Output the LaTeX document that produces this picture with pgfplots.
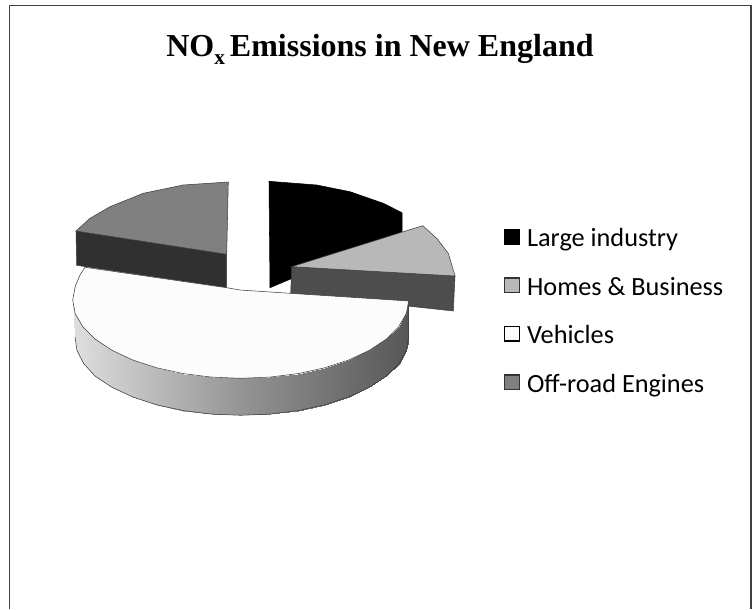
\documentclass[border=0pt]{standalone}
\usepackage{pgfplots}
\pgfplotsset{compat=1.18}
\usepackage{fontspec}
\setmainfont{Carlito}
\newfontfamily\titlefont{Liberation Serif}
\definecolor{offtop}{HTML}{808080}
\definecolor{offside}{HTML}{303030}
\definecolor{hometop}{HTML}{B8B8B8}
\definecolor{homeside}{HTML}{4D4D4D}
\definecolor{vehtop}{HTML}{FCFCFC}
\definecolor{edge}{HTML}{3C3C3C}
\pgfplotsset{
  keybox/.style={legend image code/.code={
    \draw[line width=1pt,##1] (0pt,-3pt) rectangle (11pt,8pt);
    \path (16.6pt,0pt);}},
}
\begin{document}
\begin{tikzpicture}
\begin{axis}[
  scale only axis, width=564pt, height=456.75pt,
  xmin=0, xmax=752, ymin=0, ymax=609, y dir=reverse,
  hide axis, clip=false,
  colormap={sideshade}{color(0)=(black!13) color(0.5)=(black!42) color(1)=(black!66)},
  title={\titlefont\bfseries\fontsize{24}{28}\selectfont NO\raisebox{-5.5pt}{\fontsize{16}{18}\selectfont x}\hspace{3.7pt}Emissions in New England},
  title style={at={(axis cs:380,65)}, anchor=base, inner sep=0pt},
  legend style={draw=none, fill=none, at={(axis cs:504,228)}, anchor=north west,
    font=\fontsize{19.7}{22}\selectfont, row sep=18.4pt, inner sep=0pt, outer sep=0pt,
    nodes={text height=14pt, text depth=4pt, inner sep=0pt}},
  legend cell align=left,
]
% frame, open at the bottom
\addplot[black!75, line width=1pt, forget plot] coordinates {(9.5,609) (9.5,5.5) (751,5.5) (751,609)};

% large industry
\addplot[fill=black, draw=black, line width=0.4pt, forget plot] coordinates {
  (269,181.3) (316.7,185) (350,191.7) (383.3,203.3) (402,212.7) (402,231.7) (270,287.7)} --cycle;

% off-road engines
\addplot[fill=offside, draw=edge, line width=0.4pt, forget plot] coordinates {
  (76,231) (76.7,265.3) (226.7,287.7) (226.7,254.3)} --cycle;
\addplot[fill=offtop, draw=edge, line width=0.4pt, forget plot] coordinates {
  (228.3,182) (183.3,185) (143.3,193.3) (110,206.7) (90,218.3) (76,231) (226.7,254.3)} --cycle;

% homes and business
\addplot[fill=homeside, draw=edge, line width=0.4pt, forget plot] coordinates {
  (291.7,266.7) (290.7,293.3) (453.3,311) (455,276)} --cycle;
\addplot[fill=hometop, draw=edge, line width=0.4pt, forget plot] coordinates {
  (291.7,266.7) (422.7,225.7) (436.7,238.3) (448.3,253.3) (455,276)} --cycle;

% vehicles, side wall
\addplot[surf, shader=interp, mesh/rows=2, mesh/cols=19, point meta=x,
  point meta min=75, point meta max=409, forget plot] coordinates {
  (72.7,300) (75.2,313.6) (82.8,326.8) (95.2,339.2) (112,350.3) (132.7,360) (156.7,367.8)
  (183.2,373.6) (211.5,377.1) (240.7,378.3) (269.9,377.1) (298.2,373.6) (324.7,367.8)
  (348.7,360) (369.4,350.3) (386.2,339.2) (398.6,326.8) (406.2,313.6) (408.7,300)

  (75,337) (77,350.6) (83.8,363.8) (95.2,376.2) (112,387.3) (132.7,397) (156.7,404.8)
  (183.2,410.6) (211.5,414.1) (240.7,415.3) (269.9,414.1) (298.2,410.6) (324.7,404.8)
  (348.7,397) (369.4,387.3) (386.2,376.2) (398.6,363.8) (406.2,350.6) (408.7,337)
};
\addplot[draw=edge, line width=0.4pt, forget plot] coordinates {
  (75,337) (77,350.6) (83.8,363.8) (95.2,376.2) (112,387.3) (132.7,397) (156.7,404.8)
  (183.2,410.6) (211.5,414.1) (240.7,415.3) (269.9,414.1) (298.2,410.6) (324.7,404.8)
  (348.7,397) (369.4,387.3) (386.2,376.2) (398.6,363.8) (406.2,350.6) (408.7,337) (408.7,300)};

% vehicles, top
\addplot[fill=vehtop, draw=edge, line width=0.4pt, forget plot] coordinates {
  (408.7,301) (406.2,313.6) (398.6,326.8) (386.2,339.2) (369.4,350.3) (348.7,360) (324.7,367.8)
  (298.2,373.6) (269.9,377.1) (240.7,378.3) (211.5,377.1) (183.2,373.6) (156.7,367.8)
  (132.7,360) (112,350.3) (95.2,339.2) (82.8,326.8) (75.2,313.6) (72.7,300)
  (75.2,286.4) (80,275) (85,267.3) (226.7,287.7) (240,290) (290,293.3)} --cycle;

\addlegendimage{keybox, fill=black, draw=black}
\addlegendentry{Large industry}
\addlegendimage{keybox, fill=hometop, draw=black!80}
\addlegendentry{Homes \& Business}
\addlegendimage{keybox, fill=vehtop, draw=black}
\addlegendentry{Vehicles}
\addlegendimage{keybox, fill=offtop, draw=black!80}
\addlegendentry{Off-road Engines}
\end{axis}
\useasboundingbox (current axis.south west) rectangle (current axis.north east);
\end{tikzpicture}
\end{document}
